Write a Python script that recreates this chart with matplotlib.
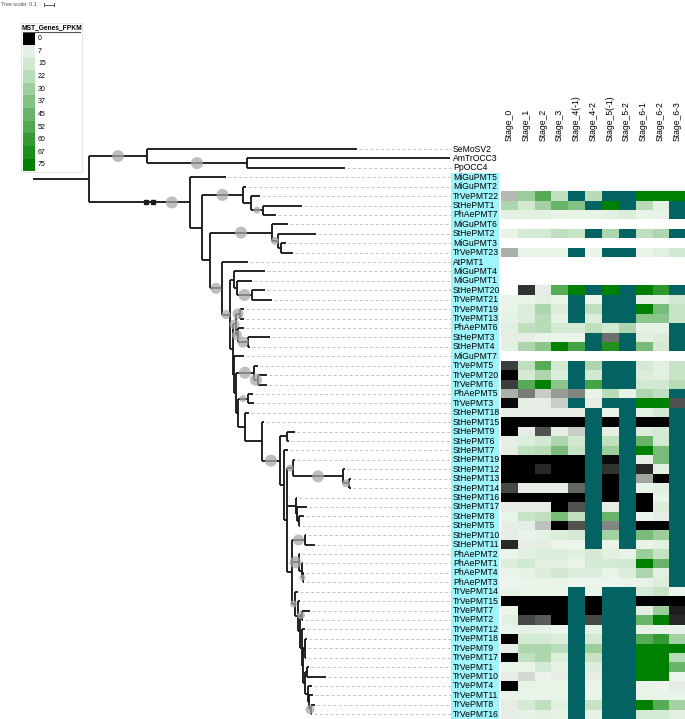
import numpy as np
import matplotlib.pyplot as plt
import matplotlib.colors as mcolors
import matplotlib.patches as mpatches

plt.rcParams['font.family'] = ['Liberation Sans', 'DejaVu Sans']

# tree (newick, branch lengths in tree units; internal label = circle size, "b" = broken branch)
clade_out = "(SeMoSV2:2.10,(AmTrOCC3:2.03,PpOCC4:0.98)6:1.00)6:0.58"
clade_b = "(MiGuPMT2:0.03,(TrVePMT22:0.09,(StHePMT1:0.39,PhAePMT7:0.13)3.5:0.12):0.08)6:0.41"
clade_d = "(MiGuPMT6:0.16,(StHePMT2:0.38,(MiGuPMT3:0.05,TrVePMT23:0.12):0.03)4:0.06)6:0.62"
clade_g = "(MiGuPMT4:0.31,(MiGuPMT1:0.15,(StHePMT20:0.13,TrVePMT21:0.20)6:0.15):0.03):0.04"
clade_i = ("((TrVePMT19:0.04,TrVePMT13:0.04)5.5:0.04,"
           "(PhAePMT6:0.06,(StHePMT3:0.22,StHePMT4:0.02)5.5:0.10)5:0.02)5:0.03")
clade_l = "(TrVePMT5:0.04,(TrVePMT20:0.09,TrVePMT6:0.09)6:0.04)6:0.18"
clade_n = "(PhAePMT5:0.05,TrVePMT3:0.06)3.5:0.10"
clade_s = "(StHePMT9:0.08,StHePMT6:0.02):0.07"
clade_v = "(StHePMT19:0.02,(StHePMT12:0.02,(StHePMT13:0.02,StHePMT14:0.02)4:0.06)6:0.50)3.5:0.06"
clade_y = "(StHePMT16:0.01,(StHePMT17:0.10,(StHePMT8:0.05,StHePMT5:0.01):0.02):0.01):0.09"
clade_sh = "(StHePMT10:0.01,StHePMT11:0.10)5.5:0.13"
clade_ph = "(PhAePMT2:0.01,(PhAePMT1:0.01,(PhAePMT4:0.01,PhAePMT3:0.01)3:0.01):0.03)6:0.07"
clade_z = ("(TrVePMT14:0.03,(TrVePMT15:0.02,((TrVePMT7:0.08,TrVePMT2:0.01)4:0.02,"
           "(TrVePMT12:0.03,((TrVePMT18:0.02,TrVePMT9:0.01,TrVePMT17:0.01):0.02,"
           "((TrVePMT1:0.02,TrVePMT10:0.19):0.02,(TrVePMT4:0.04,(TrVePMT11:0.04,"
           "(TrVePMT8:0.04,TrVePMT16:0.01)4.5:0.02):0.01):0.03):0.02):0.01):0.02):0.02):0.03)3.5:0.03")

clade_w = f"({clade_sh},{clade_ph},{clade_z}):0.05"
clade_u = f"({clade_v},{clade_y},{clade_w}):0.03"
clade_r = f"({clade_s},(StHePMT7:0.04,{clade_u}):0.04)6:0.18"
clade_m = f"({clade_n},(StHePMT18:0.04,(StHePMT15:0.02,{clade_r}):0.17):0.07):0.02"
clade_h = f"({clade_i},(MiGuPMT7:0.10,({clade_l},{clade_m}):0.02):0.01):0.03"
clade_e = f"(AtPMT1:0.26,({clade_g},{clade_h})4.5:0.08)5.5:0.12"
clade_in = f"(MiGuPMT5:0.36,({clade_b},({clade_d},{clade_e}):0.08):0.12)6|b:1.01"
newick = f"({clade_out},{clade_in}):0.56;"

outgroup = ['SeMoSV2', 'AmTrOCC3', 'PpOCC4']

# heatmap (FPKM, >75 shown as teal)
stages = ['Stage_0', 'Stage_1', 'Stage_2', 'Stage_3', 'Stage_4(-1)', 'Stage_4-2',
          'Stage_5(-1)', 'Stage_5-2', 'Stage_6-1', 'Stage_6-2', 'Stage_6-3']
heat_genes = ['TrVePMT22', 'StHePMT1', 'PhAePMT7', 'StHePMT2', 'TrVePMT23', 'StHePMT20',
              'TrVePMT21', 'TrVePMT19', 'TrVePMT13', 'PhAePMT6', 'StHePMT3', 'StHePMT4',
              'TrVePMT5', 'TrVePMT20', 'TrVePMT6', 'PhAePMT5', 'TrVePMT3', 'StHePMT18',
              'StHePMT15', 'StHePMT9', 'StHePMT6', 'StHePMT7', 'StHePMT19', 'StHePMT12',
              'StHePMT13', 'StHePMT14', 'StHePMT16', 'StHePMT17', 'StHePMT8', 'StHePMT5',
              'StHePMT10', 'StHePMT11', 'PhAePMT2', 'PhAePMT1', 'PhAePMT4', 'PhAePMT3',
              'TrVePMT14', 'TrVePMT15', 'TrVePMT7', 'TrVePMT2', 'TrVePMT12', 'TrVePMT18',
              'TrVePMT9', 'TrVePMT17', 'TrVePMT1', 'TrVePMT10', 'TrVePMT4', 'TrVePMT11',
              'TrVePMT8', 'TrVePMT16']
nan = np.nan
heat_values = [
    [5.4, 30, 50, 20, 100, 22, 100, 100, 75, 75, 75],
    [25, 15, 28, 45, 37, 100, 75, 100, 22, 10, 100],
    [10, 10, 10, 8, 8, 8, 10, 12, 8, 9, 100],
    [8, 14, 14, 20, 18, 100, 25, 100, 20, 25, 100],
    [5.0, 8, 8, 8, 100, 8, 100, 100, 8, 10, 15],
    [nan, 1.5, 6.9, 50, 75, 100, 75, 100, 75, 62, 100],
    [8, 8, 10, 8, 100, 8, 100, 100, 10, 10, 15],
    [8, 12, 25, 12, 100, 20, 100, 100, 75, 40, 18],
    [9, 12, 22, 9, 100, 12, 100, 100, 35, 35, 18],
    [10, 20, 22, 15, 14, 20, 15, 25, 9, 9, 100],
    [7, 7, 8, 8, 8, 100, 3.3, 100, 10, 12, 100],
    [10, 25, 35, 75, 55, 100, 65, 100, 40, 14, 100],
    [1.8, 20, 50, 15, 100, 25, 100, 100, 14, 10, 18],
    [0, 14, 25, 12, 100, 15, 100, 100, 12, 10, 18],
    [1.8, 50, 75, 35, 100, 55, 100, 100, 15, 15, 22],
    [5.1, 3.6, 5.9, 4.5, 3.9, 8, 22, 9, 25, 20, 100],
    [0.45, 7, 7, 6.0, 100, 7, 100, 100, 75, 75, 2.6],
    [7, 7, 7, 7, 7, 100, 8, 100, 10, 15, 100],
    [0, 0, 0, 0, 0, 100, 0, 100, 0, 0, 100],
    [0, 7, 2.4, 6.8, 6.0, 100, 7, 100, 12, 14, 100],
    [7, 12, 15, 25, 15, 100, 20, 100, 45, 15, 100],
    [7, 20, 22, 40, 18, 100, 30, 100, 75, 40, 100],
    [0.2, 0.2, 0, 0, 0, 100, 0.3, 100, 7, 40, 100],
    [0, 0, 1.2, 0, 0, 100, 1.7, 100, 1.35, 10, 100],
    [0, 0, 0, 0, 0, 100, 0, 100, 4.8, 0, 100],
    [2.3, 6.8, 7, 7, 3.0, 100, 0, 100, 8, 10, 100],
    [0, 0, 0, 0, 0, 100, 0.1, 100, 0, 8, 100],
    [7, 7, 7, 0, 2.6, 100, 6.9, 100, 0, 12, 100],
    [8, 18, 20, 40, 20, 100, 45, 100, 7.5, 7, 100],
    [7, 7, 5.7, 0, 2.6, 100, 3.9, 100, 0, 0, 100],
    [7, 8, 9, 12, 14, 100, 28, 100, 40, 30, 100],
    [1.2, 7, 7, 7.5, 7.5, 100, 8, 100, 8, 10, 100],
    [8, 10, 12, 12, 10, 14, 10, 8, 30, 18, 100],
    [12, 15, 10, 10, 8, 14, 14, 15, 75, 45, 100],
    [8, 9, 12, 15, 12, 12, 8, 12, 25, 10, 100],
    [7.5, 7.5, 8, 8, 7.5, 7.5, 7.5, 8, 9, 12, 100],
    [9, 8, 8, 8, 100, 8, 100, 100, 14, 18, 7.5],
    [0, 0, 0, 0, 100, 0, 100, 100, 0, 0, 0],
    [7.5, 0, 0, 0, 100, 0, 100, 100, 10, 30, 0.9],
    [10, 2.1, 2.7, 0, 100, 2.1, 100, 100, 45, 75, 1.2],
    [8, 9, 9, 7.5, 100, 9, 100, 100, 9, 9, 9],
    [0, 15, 14, 12, 100, 15, 100, 100, 50, 60, 28],
    [7, 25, 25, 22, 100, 30, 100, 100, 75, 75, 75],
    [0, 20, 25, 12, 100, 18, 100, 100, 75, 75, 22],
    [8, 8, 14, 9, 100, 12, 100, 100, 75, 75, 45],
    [6.9, 6.3, 8, 7, 100, 7, 100, 100, 75, 75, 7.5],
    [0, 9, 8, 8, 100, 8, 100, 100, 8, 7.5, 6.8],
    [8, 8, 8, 8, 100, 8, 100, 100, 8, 8, 8],
    [7, 14, 20, 10, 100, 18, 100, 100, 75, 50, 28],
    [7, 9, 10, 9, 100, 9, 100, 100, 14, 14, 10],
]
legend_vals = [0, 7, 15, 22, 30, 37, 45, 52, 60, 67, 75]

# layout (figure pixels)
W, H = 685, 719
tree_x0 = 33
px_per_unit = 100
row_top, row_h = 149, 9.42
label_x = 453
heat_x0, cell_w = 501, 16.75

cmap = mcolors.LinearSegmentedColormap.from_list(
    'fpkm', [(0, '#000000'), (7 / 75, '#edf6ed'), (1, '#008000')])
cmap.set_over('#036363')
cmap.set_bad('white')
norm = mcolors.Normalize(vmin=0, vmax=75)


def parse_newick(s):
    pos = 0

    def node():
        nonlocal pos
        n = {'children': [], 'name': '', 'length': 0.0}
        if s[pos] == '(':
            pos += 1
            while True:
                n['children'].append(node())
                if s[pos] == ',':
                    pos += 1
                    continue
                pos += 1
                break
        start = pos
        while s[pos] not in ',():;':
            pos += 1
        n['name'] = s[start:pos]
        if s[pos] == ':':
            pos += 1
            start = pos
            while s[pos] not in ',();':
                pos += 1
            n['length'] = float(s[start:pos])
        return n
    return node()


leaves = []


def layout(n, x):
    n['x'] = x
    if not n['children']:
        n['y'] = row_top + len(leaves) * row_h
        leaves.append(n)
    else:
        for c in n['children']:
            layout(c, x + c['length'] * px_per_unit)
        n['y'] = (n['children'][0]['y'] + n['children'][-1]['y']) / 2


root = parse_newick(newick)
layout(root, tree_x0 + root['length'] * px_per_unit)

fig = plt.figure(figsize=(W / 100, H / 100), dpi=100)
ax = fig.add_axes([0, 0, 1, 1])
ax.set_xlim(0, W)
ax.set_ylim(H, 0)
ax.axis('off')

line_kw = dict(color='#1a1a1a', lw=1.35, solid_capstyle='butt', zorder=2)


def draw(n, px):
    ax.plot([px, n['x']], [n['y'], n['y']], **line_kw)
    if n['children']:
        ys = [c['y'] for c in n['children']]
        ax.plot([n['x'], n['x']], [min(ys), max(ys)], **line_kw)
        for c in n['children']:
            draw(c, n['x'])
        if n['name']:
            parts = n['name'].split('|')
            r = float(parts[0])
            frac = 0.5
            if 'b' in parts:
                frac = 0.82
                for f in (0.56, 0.63):
                    ax.plot(px + f * (n['x'] - px), n['y'], 's', ms=2.2, color='#1a1a1a', zorder=3)
            cx = px + frac * (n['x'] - px)
            ax.add_patch(mpatches.Circle((cx, n['y']), r, color='#a8a8a8', alpha=0.75, lw=0, zorder=4))
    else:
        if n['x'] < label_x - 3:
            ax.plot([n['x'] + 2, label_x - 2], [n['y'], n['y']], color='#c4c4c4', lw=0.7,
                    ls=(0, (3, 2.5)), zorder=1)


draw(root, tree_x0)

# labels
for lf in leaves:
    if lf['name'] not in outgroup:
        ax.add_patch(mpatches.Rectangle((label_x - 2, lf['y'] - row_h / 2), 48.5, row_h,
                                        color='#a0f5fc', lw=0, zorder=1))
    ax.text(label_x, lf['y'], lf['name'], fontsize=6.2, va='center', ha='left', zorder=3)

# heatmap
order = [lf['name'] for lf in leaves]
mat = np.full((len(order), len(stages)), np.nan)
for g, vals in zip(heat_genes, heat_values):
    mat[order.index(g)] = vals
ax.imshow(np.ma.masked_invalid(mat), cmap=cmap, norm=norm, aspect='auto', interpolation='nearest',
          extent=[heat_x0, heat_x0 + cell_w * len(stages),
                  row_top + (len(order) - 0.5) * row_h, row_top - row_h / 2], zorder=2)
for j, st in enumerate(stages):
    ax.text(heat_x0 + (j + 0.5) * cell_w, 141, st, rotation=90, fontsize=6.2,
            ha='center', va='bottom')

# legend
ax.add_patch(mpatches.Rectangle((21.3, 22.7), 60.4, 149.5, fill=False, ec='#e2e2e2', lw=0.6))
ax.text(51.5, 29.5, 'MST_Genes_FPKM', fontsize=4.8, fontweight='bold', ha='center', va='baseline')
ax.plot([22.7, 80.5], [32.3, 32.3], color='#555555', lw=0.8)
sw_h = (171.2 - 32.3) / len(legend_vals)
for k, v in enumerate(legend_vals):
    ax.add_patch(mpatches.Rectangle((22.7, 32.3 + k * sw_h), 12.3, sw_h,
                                    color=cmap(norm(v)), lw=0))
    ax.text(38, 32.3 + (k + 0.5) * sw_h, str(v), fontsize=5, va='center', ha='left')

# tree scale
ax.text(1, 4.5, 'Tree scale: 0.1', fontsize=4, color='#555555', va='center', ha='left')
sb_x = 44
ax.plot([sb_x, sb_x + 0.1 * px_per_unit], [4.5, 4.5], color='#555555', lw=0.7)
for xx in (sb_x, sb_x + 0.1 * px_per_unit):
    ax.plot([xx, xx], [3, 6], color='#555555', lw=0.7)

fig.savefig('out.png', dpi=100)
